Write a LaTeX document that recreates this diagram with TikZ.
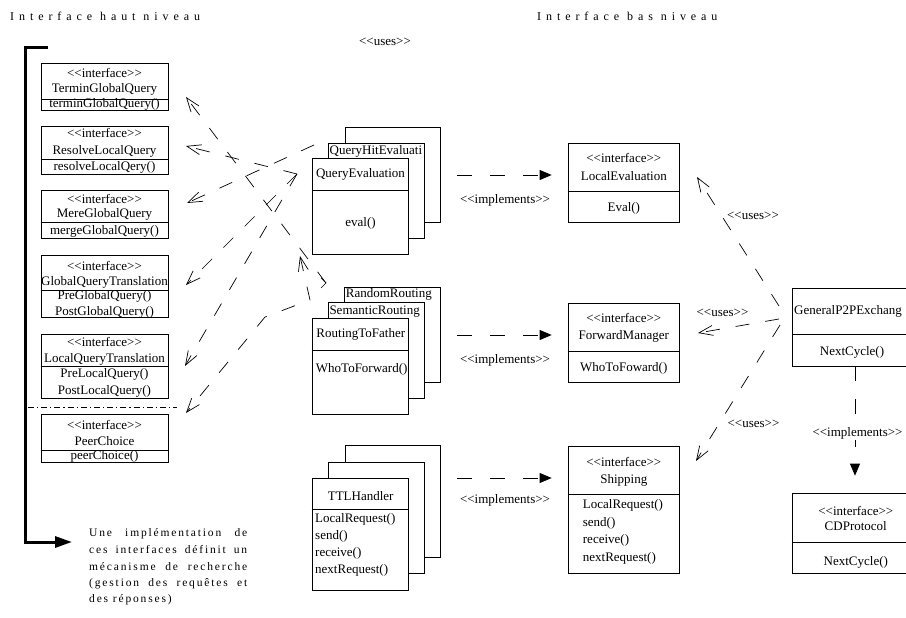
\documentclass[tikz,border=0pt]{standalone}
\usepackage{fontspec}
\setmainfont{Liberation Serif}[Ligatures=TeXOff]
\newfontfamily\spacedfam{Liberation Serif}[LetterSpace=41,Ligatures=TeXOff]
\newfontfamily\parafam{Liberation Serif}[LetterSpace=16,Ligatures=TeXOff]
\usetikzlibrary{arrows.meta}
\begin{document}
\begin{tikzpicture}[x=1pt,y=-1pt,
  cls/.style={draw, fill=white, line width=0.7pt, inner sep=0pt},
  tx/.style={font=\fontsize{13}{15}\selectfont, inner sep=0pt, anchor=base},
  txl/.style={tx, anchor=base west},
  dv/.style={line width=0.7pt},
  usesl/.style={line width=0.7pt, dash pattern=on 14pt off 16pt, -{Straight Barb[length=14pt,width=10pt]}},
  usesb/.style={line width=0.7pt, dash pattern=on 14pt off 16pt, {Straight Barb[length=14pt,width=10pt]}-{Straight Barb[length=14pt,width=10pt]}},
  impl/.style={line width=0.7pt, dash pattern=on 15pt off 18pt, -{Triangle[length=12pt,width=10pt]}},
  ttl/.style={font=\spacedfam\fontsize{12}{14}\selectfont, inner sep=0pt, anchor=base west},
  para/.style={font=\parafam\fontsize{11.5}{14}\selectfont, inner sep=0pt, anchor=base west},
]
\useasboundingbox (0,0) rectangle (906,618);

% titles
\node[ttl] (t1) at (10,20.5) {Interface haut niveau};
\node[ttl] (t2) at (537,20.5) {Interface bas niveau};
\node[tx] (u0) at (385,46) {<<uses>>};

% bracket
\coordinate (bA) at (48,48);
\coordinate (bB) at (25,48);
\coordinate (bC) at (25,542);
\coordinate (bD) at (72,542);
\draw[line width=3pt, -{Triangle[length=17pt,width=11pt]}] (bA) -- (bB) -- (bC) -- (bD);

% paragraph
\node[para] (p1) at (89,536) {\makebox[158pt][s]{Une implémentation de}};
\node[para] (p2) at (89,553) {\makebox[158pt][s]{ces interfaces définit un}};
\node[para] (p3) at (89,570) {\makebox[158pt][s]{mécanisme de recherche}};
\node[para] (p4) at (89,586) {\makebox[158pt][s]{(gestion des requêtes et}};
\node[para] (p5) at (89,602) {des réponses)};

% left interfaces
\node[cls, minimum width=127pt, minimum height=47pt] (tgq) at (104.5,86.5) {};
\draw[dv] (tgq.west |- 0,99) -- (tgq.east |- 0,99);
\node[tx] (tgq1) at (104.5,77.5) {<<interface>>};
\node[tx] (tgq2) at (104.5,92.5) {TerminGlobalQuery};
\node[tx] (tgq3) at (104.5,107.5) {terminGlobalQuery()};

\node[cls, minimum width=127pt, minimum height=48pt] (rlq) at (104.5,150) {};
\draw[dv] (rlq.west |- 0,159) -- (rlq.east |- 0,159);
\node[tx] (rlq1) at (104.5,138) {<<interface>>};
\node[tx] (rlq2) at (104.5,154) {ResolveLocalQuery};
\node[tx] (rlq3) at (104.5,170.5) {resolveLocalQery()};

\node[cls, minimum width=127pt, minimum height=48pt] (mgq) at (104.5,214) {};
\draw[dv] (mgq.west |- 0,222) -- (mgq.east |- 0,222);
\node[tx] (mgq1) at (104.5,203) {<<interface>>};
\node[tx] (mgq2) at (104.5,217.5) {MereGlobalQuery};
\node[tx] (mgq3) at (104.5,234) {mergeGlobalQuery()};

\node[cls, minimum width=127pt, minimum height=62pt] (gqt) at (104.5,286) {};
\draw[dv] (gqt.west |- 0,290) -- (gqt.east |- 0,290);
\node[tx] (gqt1) at (104.5,270) {<<interface>>};
\node[tx] (gqt2) at (104.5,285.5) {GlobalQueryTranslation};
\node[tx] (gqt3) at (104.5,299) {PreGlobalQuery()};
\node[tx] (gqt4) at (104.5,315.5) {PostGlobalQuery()};

\node[cls, minimum width=127pt, minimum height=64pt] (lqt) at (104.5,366) {};
\draw[dv] (lqt.west |- 0,366) -- (lqt.east |- 0,366);
\node[tx] (lqt1) at (104.5,346.5) {<<interface>>};
\node[tx] (lqt2) at (104.5,362) {LocalQueryTranslation};
\node[tx] (lqt3) at (104.5,377.5) {PreLocalQuery()};
\node[tx] (lqt4) at (104.5,394) {PostLocalQuery()};

\coordinate (sepA) at (28,407);
\coordinate (sepB) at (177,407);
\draw[line width=0.6pt, dash pattern=on 6pt off 3pt on 1.2pt off 3pt] (sepA) -- (sepB);

\node[cls, minimum width=127pt, minimum height=48pt] (pc) at (104.5,438) {};
\draw[dv] (pc.west |- 0,450) -- (pc.east |- 0,450);
\node[tx] (pc1) at (104.5,429) {<<interface>>};
\node[tx] (pc2) at (104.5,445.5) {PeerChoice};
\node[tx] (pc3) at (104.5,459.5) {peerChoice()};

% middle stacks
\node[cls, minimum width=95pt, minimum height=95pt] (qe3) at (392.5,174.5) {};
\node[cls, minimum width=96pt, minimum height=95pt] (qe2) at (376,190.5) {};
\node[cls, minimum width=96pt, minimum height=96pt] (qe1) at (360,206) {};
\draw[dv] (qe1.west |- 0,190) -- (qe1.east |- 0,190);
\node[txl] (qe2t) at (329.5,154.5) {QueryHitEvaluati};
\node[tx] (qe1t) at (360.5,177.5) {QueryEvaluation};
\node[tx] (qe1m) at (360.5,226) {eval()};

\node[cls, minimum width=96pt, minimum height=95pt] (rt3) at (392,334.5) {};
\node[cls, minimum width=96pt, minimum height=96pt] (rt2) at (376,350) {};
\node[cls, minimum width=96pt, minimum height=96pt] (rt1) at (360,366) {};
\draw[dv] (rt1.west |- 0,350) -- (rt1.east |- 0,350);
\node[txl] (rt3t) at (345.7,297.5) {RandomRouting};
\node[txl] (rt2t) at (329.3,314) {SemanticRouting};
\node[tx] (rt1t) at (360.8,337.5) {RoutingToFather};
\node[tx] (rt1m) at (361.7,372.5) {WhoToForward()};

\node[cls, minimum width=95pt, minimum height=112pt] (tt3) at (392.5,501) {};
\node[cls, minimum width=96pt, minimum height=111pt] (tt2) at (376,517.5) {};
\node[cls, minimum width=96pt, minimum height=112pt] (tt1) at (360,534) {};
\draw[dv] (tt1.west |- 0,509) -- (tt1.east |- 0,509);
\node[tx] (tt1t) at (360.7,500) {TTLHandler};
\node[txl] (tt1a) at (315,522.5) {LocalRequest()};
\node[txl] (tt1b) at (315,539.5) {send()};
\node[txl] (tt1c) at (315,556.5) {receive()};
\node[txl] (tt1d) at (315,573.5) {nextRequest()};

% right interfaces
\node[cls, minimum width=111pt, minimum height=79pt] (le) at (623.5,182.5) {};
\draw[dv] (le.west |- 0,191) -- (le.east |- 0,191);
\node[tx] (le1) at (623.8,162.5) {<<interface>>};
\node[tx] (le2) at (623.8,180.5) {LocalEvaluation};
\node[tx] (le3) at (623.8,211.5) {Eval()};

\node[cls, minimum width=111pt, minimum height=79pt] (fm) at (623.5,342.5) {};
\draw[dv] (fm.west |- 0,351) -- (fm.east |- 0,351);
\node[tx] (fm1) at (623.8,322.5) {<<interface>>};
\node[tx] (fm2) at (623.8,339.5) {ForwardManager};
\node[tx] (fm3) at (623.8,371) {WhoToFoward()};

\node[cls, minimum width=111pt, minimum height=127pt] (sh) at (623.5,509.5) {};
\draw[dv] (sh.west |- 0,494) -- (sh.east |- 0,494);
\node[tx] (sh1) at (623.8,466.5) {<<interface>>};
\node[tx] (sh2) at (623.8,483) {Shipping};
\node[txl] (sh3) at (582.7,508.5) {LocalRequest()};
\node[txl] (sh4) at (582.7,526) {send()};
\node[txl] (sh5) at (582.7,543.5) {receive()};
\node[txl] (sh6) at (582.7,561) {nextRequest()};

\begin{scope}
\clip (0,0) rectangle (906,618);
\node[cls, minimum width=120pt, minimum height=78pt] (gp) at (852,327) {};
\draw[dv] (gp.west |- 0,334) -- (gp.east |- 0,334);
\node[txl] (gp1) at (794,314) {GeneralP2PExchang};
\node[tx] (gp2) at (852,355.5) {NextCycle()};

\node[cls, minimum width=128pt, minimum height=80pt] (cd) at (856,533) {};
\draw[dv] (cd.west |- 0,542) -- (cd.east |- 0,542);
\node[tx] (cd1) at (855.8,515) {<<interface>>};
\node[tx] (cd2) at (855.8,530) {CDProtocol};
\node[tx] (cd3) at (855.8,565.5) {NextCycle()};
\end{scope}

% implements connectors
\coordinate (i1) at (457,175);
\coordinate (i2) at (457,335);
\coordinate (i3) at (457,478);
\draw[impl, shorten >=16pt] (i1) -- (le.west |- i1);
\draw[impl, shorten >=16pt] (i2) -- (fm.west |- i2);
\draw[impl, shorten >=16pt] (i3) -- (sh.west |- i3);
\node[tx] (im1) at (505,203.5) {<<implements>>};
\node[tx] (im2) at (505,363) {<<implements>>};
\node[tx] (im3) at (505,503.5) {<<implements>>};

\draw[impl, shorten >=17pt] (gp.south -| 855,0) -- (cd.north -| 855,0);
\node[tx, fill=white, inner sep=1pt] (im4) at (857.5,436) {<<implements>>};

% uses connectors on the right
\coordinate (g1) at (779,306);
\coordinate (g2) at (779,319);
\coordinate (g3) at (780,325);
\coordinate (ue1) at (697,177);
\coordinate (ue2) at (698,333);
\coordinate (ue3) at (696,461);
\draw[usesl] (g1) -- (ue1);
\draw[usesl] (g2) -- (ue2);
\draw[usesl] (g3) -- (ue3);
\node[tx] (us1) at (753,219) {<<uses>>};
\node[tx] (us2) at (722.5,316) {<<uses>>};
\node[tx] (us3) at (753.5,427) {<<uses>>};

% uses connectors on the left
\coordinate (qeL) at (297,174);
\coordinate (qeM) at (314,145);
\coordinate (rtA) at (310,300);
\coordinate (rtB) at (265,317);
\coordinate (rtC) at (300,256);
\coordinate (tgE) at (326,283);
\coordinate (aTGQ) at (186,97);
\coordinate (aRLQ) at (186,146);
\coordinate (aMGQ) at (187,203);
\coordinate (aGQT) at (186,285);
\coordinate (aLQT) at (185,366);
\coordinate (aPC) at (186,413);
\draw[usesl] (tgE) -- (aTGQ);
\draw[usesl] (qeL) -- (aRLQ);
\draw[usesl] (qeM) -- (aMGQ);
\draw[usesl] (qeL) -- (aGQT);
\draw[usesl] (qeL) -- (aLQT);
\draw[usesb] (rtC) -- (rtA) -- (rtB) -- (aPC);
\coordinate (tk1) at (321,278);
\coordinate (tk2) at (321,288);
\draw[line width=0.7pt] (tk1) -- (tgE) -- (tk2);
\end{tikzpicture}
\end{document}
